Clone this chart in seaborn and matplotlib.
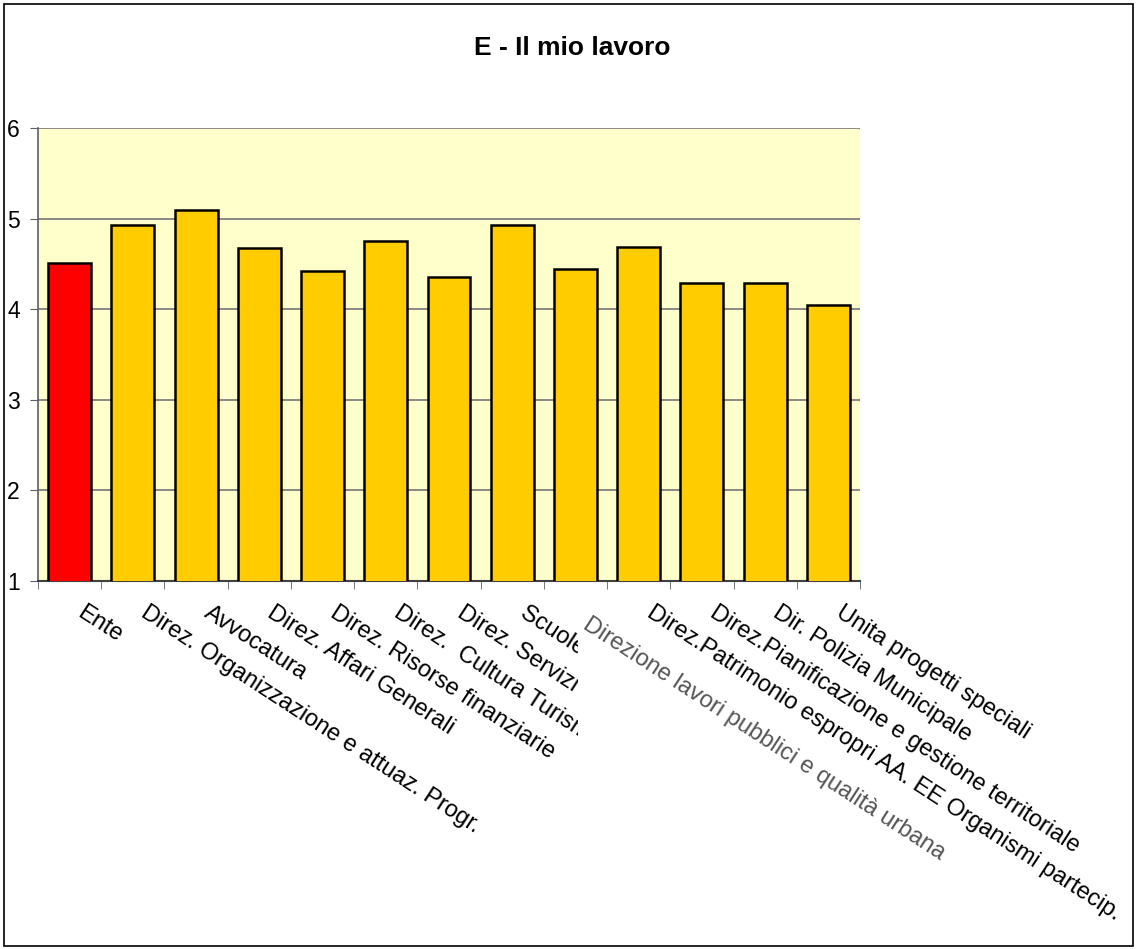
import matplotlib
matplotlib.use('Agg')
import matplotlib.pyplot as plt
import seaborn as sns
import pandas as pd
from matplotlib.patches import Rectangle
from matplotlib.transforms import ScaledTranslation, Bbox, TransformedBbox

# data
categories = ['Ente',
              'Direz. Organizzazione e attuaz. Progr.',
              'Avvocatura',
              'Direz. Affari Generali',
              'Direz. Risorse finanziarie',
              'Direz.  Cultura Turismo e Sport',
              'Direz. Servizi Sociali',
              'Scuole e Servizi Educativi',
              'Direzione lavori pubblici e qualità urbana',
              'Direz.Patrimonio espropri AA. EE Organismi partecip.',
              'Direz.Pianificazione e gestione territoriale',
              'Dir. Polizia Municipale',
              'Unita progetti speciali']
values = [4.51, 4.93, 5.09, 4.67, 4.42, 4.75, 4.36, 4.93, 4.44, 4.69, 4.29, 4.29, 4.05]
bar_colors = ['#FF0000'] + ['#FFCC00'] * 12
y_ticks = [1, 2, 3, 4, 5, 6]

df = pd.DataFrame({'cat': categories, 'val': values})

sns.set_style('white')
plt.rcParams['font.family'] = ['Liberation Sans', 'DejaVu Sans']
plt.rcParams['text.color'] = 'black'
plt.rcParams['xtick.color'] = 'black'
plt.rcParams['ytick.color'] = 'black'

fig = plt.figure(figsize=(11.36, 9.49), dpi=100)
ax = fig.add_axes([38 / 1136, 1 - 581 / 949, (860 - 38) / 1136, (581 - 128) / 949])
ax.set_facecolor('#FFFFCC')

sns.barplot(data=df, x='cat', y='val', hue='cat', palette=bar_colors, legend=False,
            saturation=1, width=0.68, edgecolor='black', linewidth=1.8, ax=ax, zorder=3)

ax.set_ylim(1, 6)
ax.set_xlim(-0.5, len(categories) - 0.5)
ax.set_yticks(y_ticks)
ax.set_yticklabels([str(t) for t in y_ticks], fontsize=16.5)
ax.grid(axis='y', color='#808080', linewidth=1.3, zorder=0)
ax.set_axisbelow(True)
ax.set_xlabel('')
ax.set_ylabel('')

for side in ['top', 'right']:
    ax.spines[side].set_visible(False)
ax.spines['left'].set_color('#606060')
ax.spines['bottom'].set_color('#404040')
ax.spines['left'].set_linewidth(1.2)
ax.spines['bottom'].set_linewidth(1.5)

ax.tick_params(axis='y', length=6, color='#606060', labelcolor='black', pad=7, left=True)
# tick marks between the categories, labels without marks
ax.set_xticks([i + 0.5 for i in range(-1, len(categories))], minor=True)
ax.tick_params(axis='x', which='minor', length=6, color='#606060', bottom=True)
ax.tick_params(axis='x', which='major', length=0, pad=15, labelcolor='black')

ax.set_xticks(range(len(categories)))
ax.set_xticklabels(categories, rotation=-33, ha='left', va='top', rotation_mode='anchor',
                   fontsize=17)

clip = TransformedBbox(Bbox([[0, 0], [578 / 1136, 1]]), fig.transFigure)
for i, lab in enumerate(ax.get_xticklabels()):
    dy = -12 / 100 if i == 8 else 0
    lab.set_transform(lab.get_transform() + ScaledTranslation(16 / 100, dy, fig.dpi_scale_trans))
    if i == 8:
        lab.set_color('#555555')
    if i in (5, 6, 7):
        lab.set_clip_box(clip)
        lab.set_clip_on(True)

fig.text(0.504, 1 - 48 / 949, 'E - Il mio lavoro', ha='center', va='center',
         fontsize=19, fontweight='bold', color='black')

fig.patches.append(Rectangle((4 / 1136, 3 / 949), (1133 - 4) / 1136, (946 - 4) / 949,
                             fill=False, edgecolor='black', linewidth=1.2,
                             transform=fig.transFigure, figure=fig))

fig.savefig('out.png', dpi=100)
